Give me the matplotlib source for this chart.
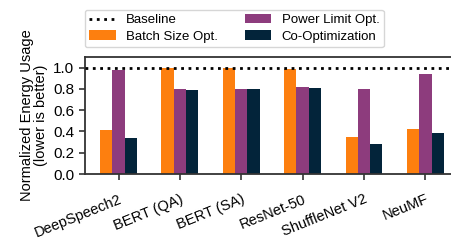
import matplotlib
matplotlib.use('Agg')
import matplotlib.pyplot as plt
import numpy as np

plt.rcParams['font.family'] = ['Liberation Sans', 'DejaVu Sans']

models = ['DeepSpeech2', 'BERT (QA)', 'BERT (SA)', 'ResNet-50', 'ShuffleNet V2', 'NeuMF']
batch_opt = [0.41, 1.0, 1.0, 0.99, 0.35, 0.42]
power_opt = [0.98, 0.80, 0.80, 0.815, 0.80, 0.94]
co_opt = [0.34, 0.79, 0.80, 0.805, 0.28, 0.39]
baseline = 1.0

c_batch = '#FD7F0F'
c_power = '#8D3C7D'
c_co = '#03243A'

fig = plt.figure(figsize=(4.51, 2.4), dpi=100)
ax = fig.add_axes([0.188, 0.275, 0.83, 0.4875])

x = np.arange(len(models))
w = 0.2
ax.axhline(baseline, color='black', linestyle=':', linewidth=2, label='Baseline', zorder=3)
ax.bar(x - w, batch_opt, w, color=c_batch, label='Batch Size Opt.')
ax.bar(x, power_opt, w, color=c_power, label='Power Limit Opt.')
ax.bar(x + w, co_opt, w, color=c_co, label='Co-Optimization')

ax.set_xlim(-0.55, 5.55)
ax.set_ylim(0, 1.1)
ax.set_yticks([0, 0.2, 0.4, 0.6, 0.8, 1.0])
ax.set_xticks(x)
ax.set_xticklabels(models, rotation=22, ha='right', rotation_mode='anchor', fontsize=10.5)
ax.tick_params(axis='x', pad=9)
ax.tick_params(axis='y', labelsize=11)
ax.set_ylabel('Normalized Energy Usage\n(lower is better)', fontsize=10.5, linespacing=1.0)

for s in ['left', 'bottom', 'top']:
    ax.spines[s].set_color('#333333')
    ax.spines[s].set_linewidth(1.3)
ax.spines['right'].set_visible(False)
ax.tick_params(color='#333333', width=1.2, length=4)

handles, labels = ax.get_legend_handles_labels()
fig.legend(handles, labels, ncol=2, loc='upper left', bbox_to_anchor=(0.188, 0.96),
           borderaxespad=0, fontsize=9.5, frameon=True, handlelength=2.0, columnspacing=2.0,
           borderpad=0.35, labelspacing=0.3, handletextpad=0.8)

plt.savefig('out.png', dpi=100)
